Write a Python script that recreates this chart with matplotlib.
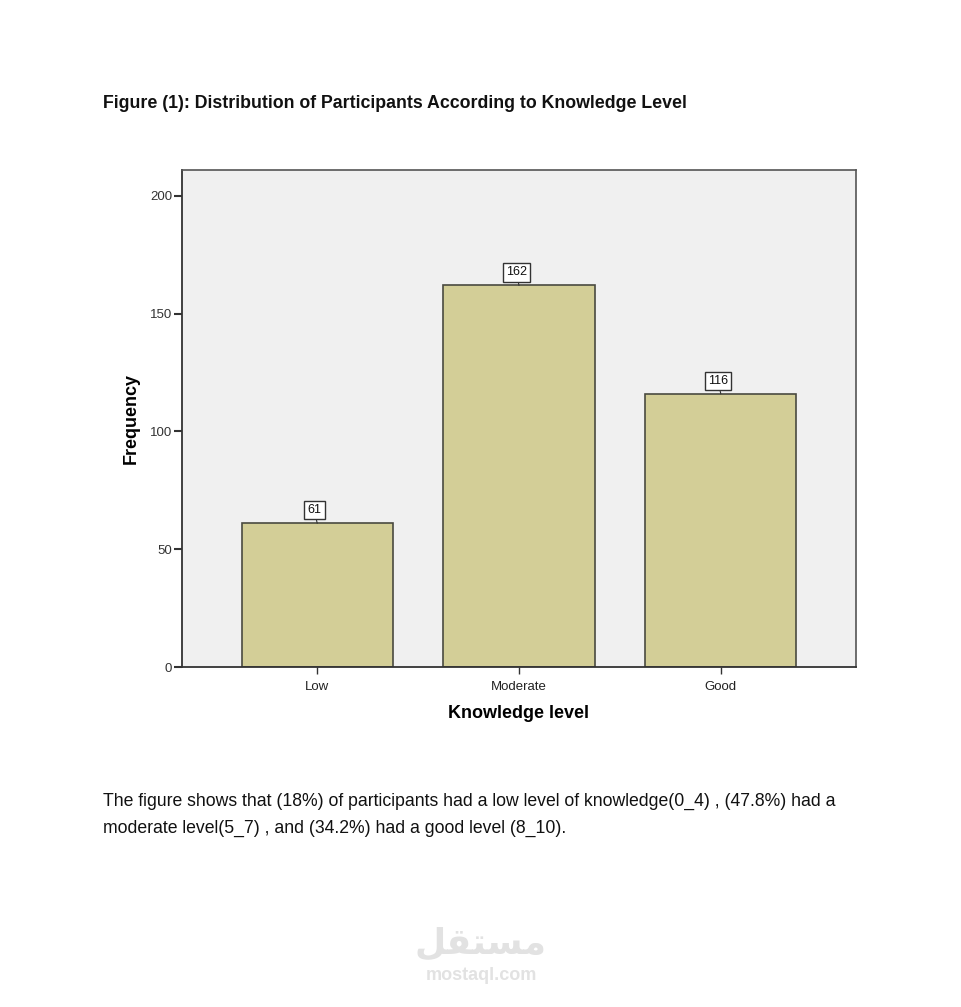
import matplotlib
matplotlib.use("Agg")
import matplotlib.pyplot as plt

categories = ["Low", "Moderate", "Good"]
frequencies = [61, 162, 116]
yticks = [0, 50, 100, 150, 200]

title_text = "Figure (1): Distribution of Participants According to Knowledge Level"
caption_line1 = "The figure shows that (18%) of participants had a low level of knowledge(0_4) , (47.8%) had a"
caption_line2 = "moderate level(5_7) , and (34.2%) had a good level (8_10)."

plt.rcParams['font.family'] = ['Liberation Sans', 'DejaVu Sans']

fig = plt.figure(figsize=(9.61, 10.07), dpi=100)
fig.patch.set_facecolor("white")

ax = fig.add_axes([182/961, 1-667/1007, (856-182)/961, (667-170)/1007])
ax.set_facecolor("#f0f0f0")

x = list(range(len(categories)))
bars = ax.bar(x, frequencies, width=0.75, color="#d3ce97", edgecolor="#4a4a40", linewidth=1.2, zorder=2)

ax.set_xlim(-0.67, 2.67)
ax.set_ylim(0, 211)
ax.set_yticks(yticks)
ax.set_yticklabels([str(t) for t in yticks], fontsize=9.5, color="#333333")
ax.set_xticks(x)
ax.set_xticklabels(categories, fontsize=9.5, color="#222222")
ax.tick_params(axis="y", length=6, width=1.5, color="#333333", pad=1)
ax.tick_params(axis="x", length=5, width=1.0, color="#333333", pad=5)

for side in ["top", "right"]:
    ax.spines[side].set_color("#555555")
    ax.spines[side].set_linewidth(1.2)
for side in ["left", "bottom"]:
    ax.spines[side].set_color("#333333")
    ax.spines[side].set_linewidth(1.3)

ax.set_ylabel("Frequency", fontsize=13, fontweight="bold", labelpad=7.5)
ax.set_xlabel("Knowledge level", fontsize=13, fontweight="bold", labelpad=9)

for xi, v in zip(x, frequencies):
    ax.annotate(str(v), xy=(xi, v), xytext=(-2, 5), textcoords="offset points",
                ha="center", va="bottom", fontsize=9, color="#111111",
                bbox=dict(boxstyle="square,pad=0.25", facecolor="white", edgecolor="#333333", linewidth=1.0),
                arrowprops=dict(arrowstyle="-", color="#333333", linewidth=0.8, shrinkA=0, shrinkB=0),
                zorder=3)

fig.text(103/961, 1-103/1007, title_text, fontsize=12.8, fontweight="bold", ha="left", va="center", color="#111111")
fig.text(103/961, 1-801/1007, caption_line1, fontsize=12.7, ha="left", va="center", color="#111111")
fig.text(103/961, 1-828/1007, caption_line2, fontsize=12.7, ha="left", va="center", color="#111111")

# watermark (Arabic in presentation forms, visual order)
arabic_logo = "\uFEDE\uFED8\uFE98\uFEB4\uFEE3"
fig.text(481/961, 1-943/1007, arabic_logo, fontsize=26, fontweight="bold", ha="center", va="center",
         color="#e2e2e2", family=["DejaVu Sans"])
fig.text(481/961, 1-976/1007, "mostaql.com", fontsize=13, fontweight="bold", ha="center", va="center",
         color="#e2e2e2")

fig.savefig("out.png", dpi=100, facecolor="white")
